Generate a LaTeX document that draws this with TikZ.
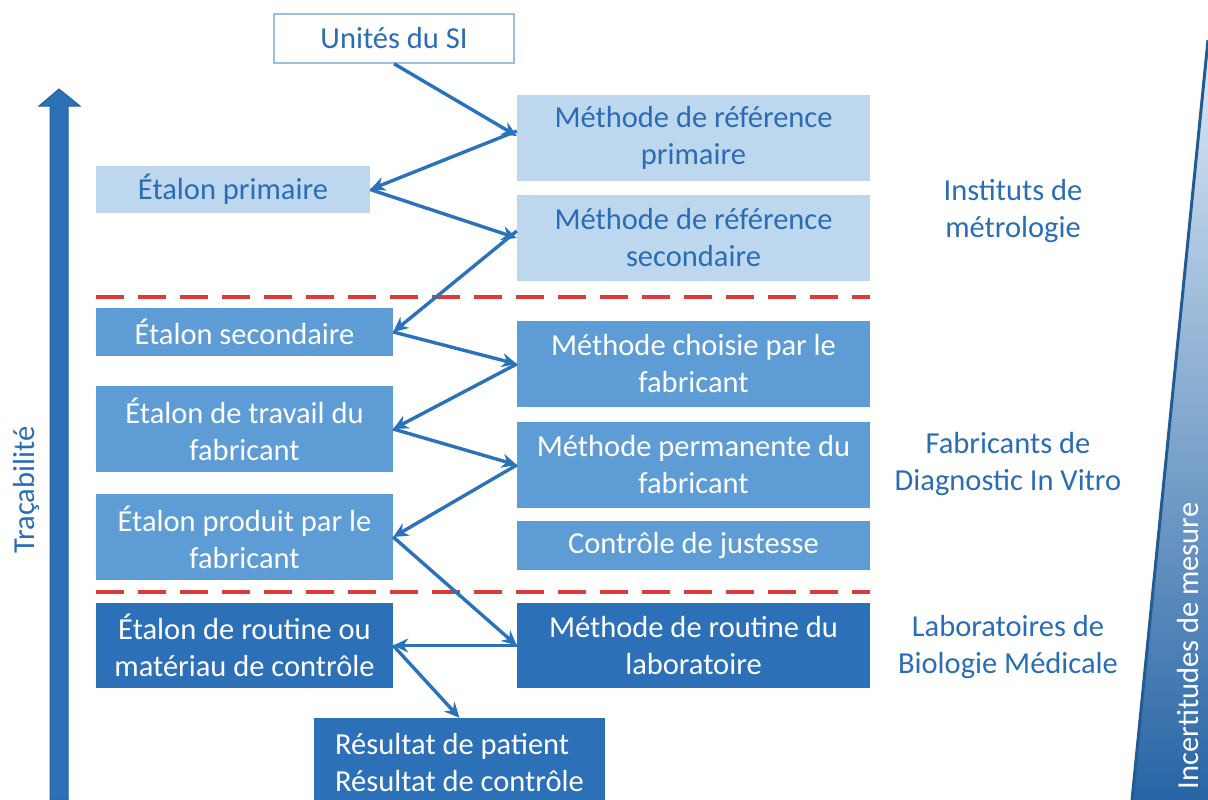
\documentclass[tikz,border=0pt]{standalone}
\usepackage{fontspec}
\setmainfont{Carlito}
\usetikzlibrary{arrows.meta}

\definecolor{txtblue}{HTML}{2A6DB5}
\definecolor{lightbox}{HTML}{BDD7EE}
\definecolor{midbox}{HTML}{5E9CD6}
\definecolor{darkbox}{HTML}{2C70B8}
\definecolor{arrowblue}{HTML}{2A72BC}
\definecolor{sepred}{HTML}{E0393A}

\begin{document}
\begin{tikzpicture}[x=1pt,y=-1pt,
  every node/.style={font=\fontsize{30.5}{37}\selectfont, align=center, inner sep=0pt},
  lbox/.style={fill=lightbox, text=txtblue},
  mbox/.style={fill=midbox, text=white},
  dbox/.style={fill=darkbox, text=white},
  wide/.style={minimum width=353pt},
  narrow/.style={minimum width=297pt},
  link/.style={draw=arrowblue, line width=3.4pt, -{Stealth[length=15pt,width=14pt]}},
  sep/.style={draw=sepred, line width=4pt, dash pattern=on 28pt off 14pt}]
  \useasboundingbox (0,0) rectangle (1208,800);

  % incertitudes
  \shade[top color=lightbox!50, bottom color=darkbox!90!black]
    (1208,40) -- (1132,800) -- (1208,800) -- cycle;
  \draw[darkbox!80!black, line width=3pt] (1208,40) -- (1132,800);
  \node[text=white, rotate=90] (inc) at (1188,646) {Incertitudes de mesure};

  % traceability arrow
  \fill[darkbox, draw=darkbox!85!black, line width=1pt]
    (50,800) -- (50,106) -- (39,106) -- (59,89) -- (80,106) -- (68,106) -- (68,800) -- cycle;
  \node[text=txtblue, rotate=90] (tra) at (26,490) {Traçabilité};

  % separators
  \draw[sep] (96,297) -- (870,297);
  \draw[sep] (96,592) -- (870,592);

  % boxes
  \node[draw=txtblue!45, line width=1.5pt, fill=white, text=txtblue,
    minimum width=240pt, minimum height=49pt] (si) at (394,38.5) {Unités du SI};
  \node[lbox, wide, minimum height=86pt] (mrp) at (693.5,138) {Méthode de référence\\primaire};
  \node[lbox, minimum width=274pt, minimum height=47pt] (ep) at (233,189.5) {Étalon primaire};
  \node[lbox, wide, minimum height=86pt] (mrs) at (693.5,238) {Méthode de référence\\secondaire};
  \node[mbox, narrow, minimum height=48pt] (es) at (244.5,332) {Étalon secondaire};
  \node[mbox, wide, minimum height=86pt] (mcf) at (693.5,364) {Méthode choisie par le\\fabricant};
  \node[mbox, narrow, minimum height=86pt] (etf) at (244.5,429) {Étalon de travail du\\fabricant};
  \node[mbox, wide, minimum height=86pt] (mpf) at (693.5,465) {Méthode permanente du\\fabricant};
  \node[mbox, narrow, minimum height=86pt] (epf) at (244.5,537) {Étalon produit par le\\fabricant};
  \node[mbox, wide, minimum height=49pt] (cj) at (693.5,545.5) {Contrôle de justesse};
  \node[dbox, narrow, minimum height=85pt] (erm) at (244.5,645.5) {Étalon de routine ou\\matériau de contrôle};
  \node[dbox, wide, minimum height=85pt] (mrl) at (693.5,645.5) {Méthode de routine du\\laboratoire};
  \node[dbox, minimum width=291pt, minimum height=90pt, align=left]
    (res) at (459.5,763) {Résultat de patient\\Résultat de contrôle};

  % groups
  \node[text=txtblue] (imet) at (1013,211) {Instituts de\\métrologie};
  \node[text=txtblue] (fdiv) at (1008,464) {Fabricants de\\Diagnostic In Vitro};
  \node[text=txtblue] (lbm) at (1008,647) {Laboratoires de\\Biologie Médicale};

  % links
  \draw[link] (si.south) -- ([yshift=2pt]mrp.west);
  \draw[link] ([yshift=7pt]mrp.west) -- (ep.east);
  \draw[link] (ep.east) -- (mrs.west);
  \draw[link] ([yshift=7pt]mrs.west) -- (es.east);
  \draw[link] (es.east) -- (mcf.west);
  \draw[link] (mcf.west) -- (etf.east);
  \draw[link] (etf.east) -- (mpf.west);
  \draw[link] (mpf.west) -- (epf.east);
  \draw[link] (epf.east) -- (mrl.west);
  \draw[link] (mrl.west) -- (erm.east);
  \draw[link] (erm.east) -- (res.north);
\end{tikzpicture}
\end{document}
